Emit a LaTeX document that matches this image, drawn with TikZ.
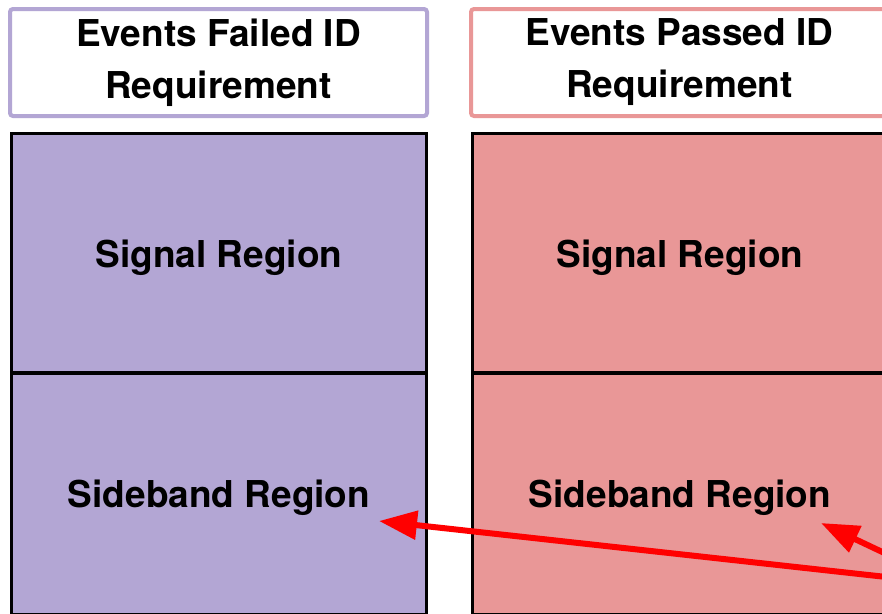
\documentclass[tikz,border=0pt]{standalone}
\usepackage{fontspec}
\setmainfont{TeX Gyre Heros}
\usetikzlibrary{arrows.meta}

\definecolor{failcol}{RGB}{179,166,212}
\definecolor{passcol}{RGB}{233,151,151}

\begin{document}
\begin{tikzpicture}[x=1pt,y=-1pt,
        font=\fontsize{37}{52}\selectfont\bfseries,
        head/.style={rectangle,rounded corners=3pt,line width=4pt,fill=white,
            minimum width=417pt,minimum height=107pt,align=center,inner sep=0pt},
        region/.style={rectangle,draw=black,line width=3.5pt,text depth=0pt,
            minimum width=415pt,inner sep=0pt},
        link/.style={color=red,line width=6pt,-{Triangle[length=38pt,width=28pt]}}]

    \clip (0,0) rectangle (882,613);
    \fill[white] (0,0) rectangle (882,613);

    % the two ID categories
    \node[head, draw=failcol] (failhead) at (218.5,62.5) {Events Failed ID\\Requirement};
    \node[head, draw=passcol] (passhead) at (679.5,62.5) {Events Passed ID\\Requirement};

    % signal and sideband regions under each category
    \node[region, fill=failcol, minimum height=239.5pt] (failsig) at (219,253.25) {Signal Region};
    \node[region, fill=failcol, minimum height=241.5pt] (failside) at (219,493.75) {Sideband Region};
    \node[region, fill=passcol, minimum height=239.5pt] (passsig) at (680,253.25) {Signal Region};
    \node[region, fill=passcol, minimum height=241.5pt] (passside) at (680,493.75) {Sideband Region};

    \coordinate (src) at (950,584);
    \coordinate (failtip) at (379,521);
    \coordinate (passtip) at (821,523);

    \path[link]
    (src) edge (failtip)
    (src) edge (passtip);

\end{tikzpicture}
\end{document}
